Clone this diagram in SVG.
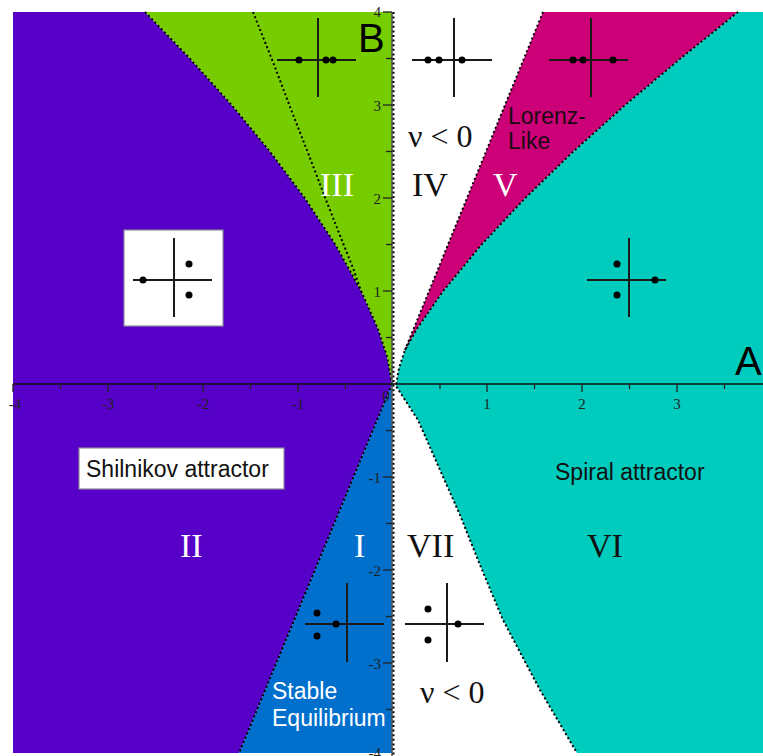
<svg xmlns="http://www.w3.org/2000/svg" width="763" height="756" viewBox="0 0 763 756">
<style>
.bd{fill:none;stroke:#000;stroke-width:2;stroke-dasharray:2 2.6}
.ax{stroke:#111;stroke-width:1.6;fill:none}
.tk{stroke:#222;stroke-width:1.3}
.tl{font-family:"Liberation Serif",serif;font-size:15px;fill:#222}
.rn{font-family:"Liberation Serif",serif;font-size:34px}
.nu{font-family:"Liberation Serif",serif;font-size:32px;fill:#111}
.sn{font-family:"Liberation Sans",Arial,sans-serif;font-size:23px}
.big{font-family:"Liberation Sans",Arial,sans-serif;font-size:40px;fill:#000}
.cr{stroke:#1a1a1a;stroke-width:2;fill:none}
.dt{fill:#000}
</style>
<rect width="763" height="756" fill="#fff"/>
<g id="regions">
<polygon id="region-II" fill="#5700C8" points="13,12 145,12 189.8,58.5 231.6,105 269.9,151.5 304.7,198 335.3,244.5 361.1,291 377.7,328.2 386.9,356.1 392,384 239,753 13,753"/>
<polygon id="region-III" fill="#77CC00" points="145,12 392,12 392,384 386.9,356.1 377.7,328.2 361.1,291 335.3,244.5 304.7,198 269.9,151.5 231.6,105 189.8,58.5"/>
<polygon id="region-V" fill="#CC0077" points="543,12 738,12 680.5,58.5 625.2,105 573.3,151.5 525.3,198 481.6,244.5 443.2,291 417.3,328.2 405,350"/>
<polygon id="region-VI" fill="#00CCBE" points="738,12 763,12 763,753 577,753 540,690 503,620 480,565 460,515 440,470 418,420 405,400 396,386 399,368 405,350 417.3,328.2 443.2,291 481.6,244.5 525.3,198 573.3,151.5 625.2,105 680.5,58.5"/>
<polygon id="region-I" fill="#0070CC" points="392,384 392,753 239,753"/>
</g>
<g id="boundaries">
<polyline class="bd" points="145,12 189.8,58.5 231.6,105 269.9,151.5 304.7,198 335.3,244.5 361.1,291 377.7,328.2 386.9,356.1 392,384"/>
<polyline class="bd" points="253,12 273,62 292,112 310,158 326,200 341,238 353,268 361,291"/>
<polyline class="bd" points="543,12 405,350"/>
<polyline class="bd" points="738,12 680.5,58.5 625.2,105 573.3,151.5 525.3,198 481.6,244.5 443.2,291 417.3,328.2 405,350 399,368 396,386 405,400 418,420 440,470 460,515 480,565 503,620 540,690 577,753"/>
<polyline class="bd" points="392,384 239,753"/>
</g>
<g id="axes">
<line x1="392" y1="12" x2="392" y2="756" stroke="#555" stroke-width="1.6"/>
<line class="bd" x1="393.5" y1="12" x2="393.5" y2="756"/>
<line class="ax" x1="13" y1="384" x2="763" y2="384"/>
<g id="x-ticks">
<line class="tk" x1="13" y1="384" x2="13" y2="392"/>
<line class="tk" x1="60.5" y1="384" x2="60.5" y2="389"/>
<line class="tk" x1="108" y1="384" x2="108" y2="392"/>
<line class="tk" x1="155.5" y1="384" x2="155.5" y2="389"/>
<line class="tk" x1="203" y1="384" x2="203" y2="392"/>
<line class="tk" x1="250.5" y1="384" x2="250.5" y2="389"/>
<line class="tk" x1="298" y1="384" x2="298" y2="392"/>
<line class="tk" x1="345.5" y1="384" x2="345.5" y2="389"/>
<line class="tk" x1="440" y1="384" x2="440" y2="389"/>
<line class="tk" x1="487" y1="384" x2="487" y2="392"/>
<line class="tk" x1="534.5" y1="384" x2="534.5" y2="389"/>
<line class="tk" x1="582" y1="384" x2="582" y2="392"/>
<line class="tk" x1="629.5" y1="384" x2="629.5" y2="389"/>
<line class="tk" x1="677" y1="384" x2="677" y2="392"/>
<line class="tk" x1="724.5" y1="384" x2="724.5" y2="389"/>
</g>
<g id="y-ticks">
<line class="tk" x1="383" y1="12" x2="392" y2="12"/>
<line class="tk" x1="386" y1="58.5" x2="392" y2="58.5"/>
<line class="tk" x1="383" y1="105" x2="392" y2="105"/>
<line class="tk" x1="386" y1="151.5" x2="392" y2="151.5"/>
<line class="tk" x1="383" y1="198" x2="392" y2="198"/>
<line class="tk" x1="386" y1="244.5" x2="392" y2="244.5"/>
<line class="tk" x1="383" y1="291" x2="392" y2="291"/>
<line class="tk" x1="386" y1="337.5" x2="392" y2="337.5"/>
<line class="tk" x1="386" y1="430.5" x2="392" y2="430.5"/>
<line class="tk" x1="383" y1="477" x2="392" y2="477"/>
<line class="tk" x1="386" y1="523.5" x2="392" y2="523.5"/>
<line class="tk" x1="383" y1="570" x2="392" y2="570"/>
<line class="tk" x1="386" y1="616.5" x2="392" y2="616.5"/>
<line class="tk" x1="383" y1="663" x2="392" y2="663"/>
<line class="tk" x1="386" y1="709.5" x2="392" y2="709.5"/>
</g>
<g id="tick-labels">
<text class="tl" x="15" y="409" text-anchor="middle">-4</text>
<text class="tl" x="108" y="409" text-anchor="middle">-3</text>
<text class="tl" x="203" y="409" text-anchor="middle">-2</text>
<text class="tl" x="298" y="409" text-anchor="middle">-1</text>
<text class="tl" x="386" y="401" text-anchor="middle">0</text>
<text class="tl" x="487" y="409" text-anchor="middle">1</text>
<text class="tl" x="582" y="409" text-anchor="middle">2</text>
<text class="tl" x="677" y="409" text-anchor="middle">3</text>
<text class="tl" x="381" y="17" text-anchor="end">4</text>
<text class="tl" x="381" y="111" text-anchor="end">3</text>
<text class="tl" x="381" y="204" text-anchor="end">2</text>
<text class="tl" x="381" y="297" text-anchor="end">1</text>
<text class="tl" x="381" y="483" text-anchor="end">-1</text>
<text class="tl" x="381" y="576" text-anchor="end">-2</text>
<text class="tl" x="381" y="669" text-anchor="end">-3</text>
<text class="tl" x="381" y="758" text-anchor="end">-4</text>
</g>
<text id="label-B" class="big" x="358" y="52">B</text>
<text id="label-A" class="big" x="735" y="375">A</text>
</g>
<g id="region-labels">
<text class="rn" x="320" y="196" fill="#fff">III</text>
<text class="rn" x="412" y="196" fill="#111">IV</text>
<text class="rn" x="493" y="196" fill="#fff">V</text>
<text class="rn" x="180" y="557" fill="#fff">II</text>
<text class="rn" x="354" y="557" fill="#fff">I</text>
<text class="rn" x="407" y="557" fill="#111">VII</text>
<text class="rn" x="587" y="557" fill="#111">VI</text>
<text class="nu" x="408" y="147">ν &lt; 0</text>
<text class="nu" x="420" y="703">ν &lt; 0</text>
<text class="sn" x="508" y="124" fill="#1a0a12">Lorenz-</text>
<text class="sn" x="508" y="149" fill="#1a0a12">Like</text>
<text class="sn" x="555" y="480" fill="#111">Spiral attractor</text>
<text class="sn" x="272" y="699" fill="#fff">Stable</text>
<text class="sn" x="272" y="726" fill="#fff">Equilibrium</text>
</g>
<g id="shilnikov-label">
<rect x="79" y="448" width="205" height="41" fill="#fff" stroke="#8a8a9a" stroke-width="1.2"/>
<text class="sn" x="86" y="477" fill="#111">Shilnikov attractor</text>
</g>
<g id="inset-III">
<line class="cr" x1="277" y1="60" x2="356" y2="60"/>
<line class="cr" x1="318" y1="18" x2="318" y2="97"/>
<circle class="dt" cx="299" cy="60" r="3.5"/><circle class="dt" cx="326" cy="60" r="3.5"/><circle class="dt" cx="333" cy="60" r="3.5"/>
</g>
<g id="inset-IV">
<line class="cr" x1="412" y1="60" x2="492" y2="60"/>
<line class="cr" x1="454" y1="18" x2="454" y2="97"/>
<circle class="dt" cx="428" cy="60" r="3.5"/><circle class="dt" cx="439" cy="60" r="3.5"/><circle class="dt" cx="462" cy="60" r="3.5"/>
</g>
<g id="inset-V">
<line class="cr" x1="549" y1="60" x2="628" y2="60"/>
<line class="cr" x1="591" y1="18" x2="591" y2="97"/>
<circle class="dt" cx="573" cy="60" r="3.5"/><circle class="dt" cx="583" cy="60" r="3.5"/><circle class="dt" cx="613" cy="60" r="3.5"/>
</g>
<g id="inset-II">
<rect x="124" y="230" width="99" height="96" fill="#fff" stroke="#8a8a9a" stroke-width="1.2"/>
<line class="cr" x1="133" y1="280" x2="212" y2="280"/>
<line class="cr" x1="174" y1="238" x2="174" y2="317"/>
<circle class="dt" cx="143" cy="280" r="3.5"/><circle class="dt" cx="189" cy="264" r="3.5"/><circle class="dt" cx="189" cy="295" r="3.5"/>
</g>
<g id="inset-VI">
<line class="cr" x1="587" y1="280" x2="666" y2="280"/>
<line class="cr" x1="629" y1="238" x2="629" y2="317"/>
<circle class="dt" cx="617" cy="264" r="3.5"/><circle class="dt" cx="617" cy="295" r="3.5"/><circle class="dt" cx="655" cy="280" r="3.5"/>
</g>
<g id="inset-I">
<line class="cr" x1="305" y1="624" x2="384" y2="624"/>
<line class="cr" x1="347" y1="583" x2="347" y2="662"/>
<circle class="dt" cx="317" cy="613" r="3.5"/><circle class="dt" cx="317" cy="636" r="3.5"/><circle class="dt" cx="336" cy="624" r="3.5"/>
</g>
<g id="inset-VII">
<line class="cr" x1="405" y1="624" x2="484" y2="624"/>
<line class="cr" x1="447" y1="583" x2="447" y2="662"/>
<circle class="dt" cx="428" cy="609" r="3.5"/><circle class="dt" cx="428" cy="640" r="3.5"/><circle class="dt" cx="458" cy="624" r="3.5"/>
</g>
</svg>
